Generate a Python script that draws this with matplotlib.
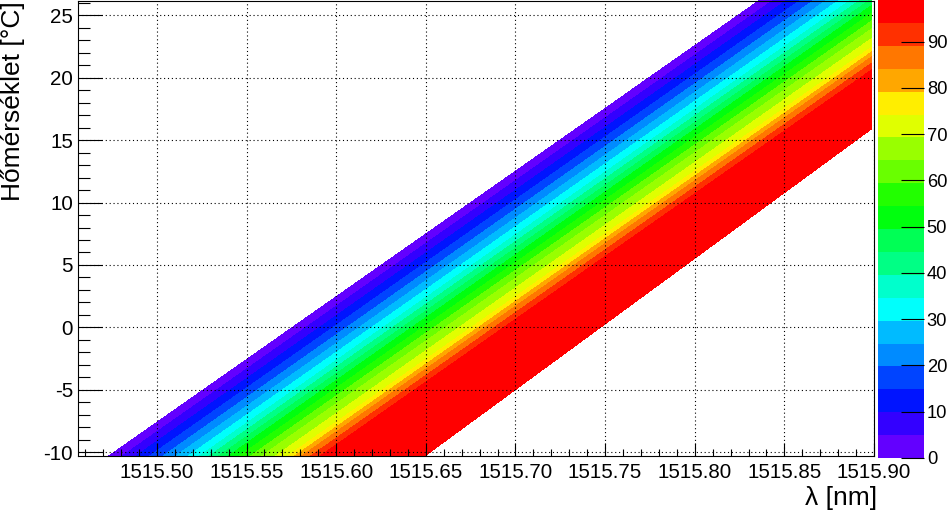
import numpy as np
import matplotlib
matplotlib.use("Agg")
import matplotlib.pyplot as plt
from matplotlib.colors import hsv_to_rgb
from matplotlib.patches import Rectangle
from matplotlib.ticker import MultipleLocator, FormatStrFormatter

plt.rcParams['font.family'] = ['Liberation Sans', 'DejaVu Sans']
plt.rcParams['axes.unicode_minus'] = False

# temperature rows (deg C) and the wavelength window recorded at each one (nm)
temps = [-10.4, 26.3]
lambda_start = [1515.4724, 1515.837]
lambda_end = [1515.6486, 1515.9973]

# transmission (%) along a row, offset from the window start (nm)
offsets = [0.0, 0.0306, 0.0489, 0.0672, 0.0861, 0.0989, 0.1083, 0.1211, 0.130]
transmission = [0, 20, 33, 50, 65, 73, 85, 97, 99]

z_max = 99.0
n_levels = 20
lambda_cut = 1515.899

# sheared grid: every temperature row carries the same profile
X, Y, Z = [], [], []
for t, start, end in zip(temps, lambda_start, lambda_end):
    X.append([start + o for o in offsets] + [end])
    Y.append([t] * (len(offsets) + 1))
    Z.append(transmission + [transmission[-1]])
X, Y, Z = np.array(X), np.array(Y), np.array(Z, dtype=float)

# old ROOT "pretty" palette: hue 280 -> 0, 50 colours, 20 contour bands
band_colors = []
for i in range(n_levels):
    k = int((i + 0.99) * 50 / n_levels)
    hue = 280.0 - (k + 1) * 280.0 / 50
    band_colors.append(hsv_to_rgb((hue / 360.0, 1.0, 1.0)))
levels = np.linspace(0, z_max, n_levels + 1)

fig = plt.figure(figsize=(9.5, 5.12), dpi=100)
ax = fig.add_axes([78 / 950, 56 / 512, 796 / 950, 455 / 512])
cax = fig.add_axes([878 / 950, 54 / 512, 46 / 950, 458 / 512])

cs = ax.contourf(X, Y, Z, levels=levels, colors=band_colors)
clip = Rectangle((1515.3, -20), lambda_cut - 1515.3, 60, transform=ax.transData)
cs.set_clip_path(clip)

ax.set_xlim(1515.456, 1515.900)
ax.set_ylim(-10.32, 26.16)

ax.xaxis.set_major_locator(MultipleLocator(0.05))
ax.xaxis.set_minor_locator(MultipleLocator(0.01))
ax.xaxis.set_major_formatter(FormatStrFormatter('%.2f'))
ax.yaxis.set_major_locator(MultipleLocator(5))
ax.yaxis.set_minor_locator(MultipleLocator(1))

ax.grid(True, which='major', color='black', linestyle=(0, (1, 2.5)), linewidth=0.8)
ax.set_axisbelow(False)

ax.tick_params(axis='both', which='both', direction='in', width=0.8,
               labelsize=14.8, top=False, right=False)
ax.tick_params(axis='x', which='major', length=9.4, pad=5)
ax.tick_params(axis='x', which='minor', length=4.7)
ax.tick_params(axis='y', which='major', length=17.3, pad=3.6)
ax.tick_params(axis='y', which='minor', length=8.6)
for sp in ax.spines.values():
    sp.set_linewidth(0.8)

cb = fig.colorbar(cs, cax=cax, ticks=range(0, 91, 10))
cb.outline.set_visible(False)
cb.minorticks_off()
cax.tick_params(direction='in', length=16.5, width=0.8, pad=2.0, labelsize=13.2)

fig.text(877 / 950, 1 - 498 / 512, 'λ [nm]', ha='right', va='center', fontsize=19)
fig.text(13 / 950, 1 - 1 / 512, 'Hőmérséklet [°C]', ha='center', va='top',
         rotation=90, fontsize=19)

fig.savefig('out.png', dpi=100)
